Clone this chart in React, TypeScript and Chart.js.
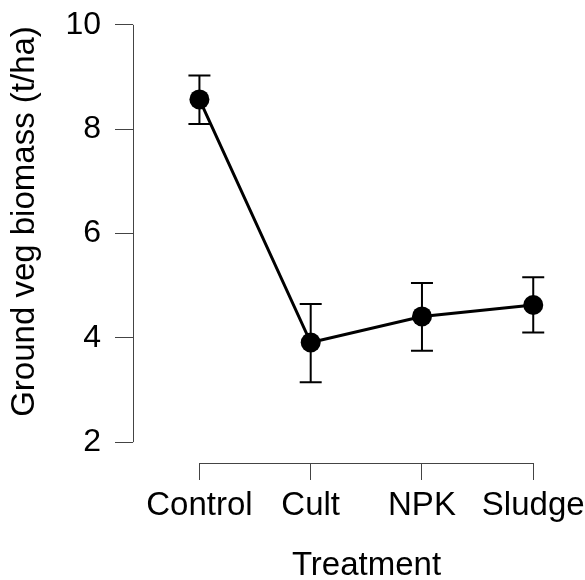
import React, { useEffect, useRef } from 'react';
import { Chart, registerables } from 'chart.js';

Chart.register(...registerables);

const categories = ['Control', 'Cult', 'NPK', 'Sludge'];
const means = [8.57, 3.91, 4.41, 4.63];
const upper = [9.03, 4.65, 5.05, 5.16];
const lower = [8.1, 3.15, 3.75, 4.1];
const yTicks = [2, 4, 6, 8, 10];
const xTitle = 'Treatment';
const yTitle = 'Ground veg biomass (t/ha)';

const FONT = "'Liberation Sans', Arial, Helvetica, sans-serif";

const rPlot = {
  id: 'rPlot',
  beforeDatasetsDraw(chart: any) {
    const { ctx, scales, chartArea } = chart;
    const x = scales.x;
    const y = scales.y;
    ctx.save();
    // axis lines (R style, only spanning tick range)
    ctx.strokeStyle = '#444';
    ctx.lineWidth = 1;
    const ax = Math.round(chartArea.left) + 0.5;
    ctx.beginPath();
    ctx.moveTo(ax, y.getPixelForValue(yTicks[0]));
    ctx.lineTo(ax, y.getPixelForValue(yTicks[yTicks.length - 1]));
    ctx.stroke();
    const ay = Math.round(chartArea.bottom) + 0.5;
    ctx.beginPath();
    ctx.moveTo(x.getPixelForValue(1), ay);
    ctx.lineTo(x.getPixelForValue(categories.length), ay);
    ctx.stroke();
    // error bars
    ctx.strokeStyle = '#000';
    ctx.lineWidth = 2;
    means.forEach((_, i) => {
      const px = x.getPixelForValue(i + 1);
      const t = y.getPixelForValue(upper[i]);
      const b = y.getPixelForValue(lower[i]);
      ctx.beginPath();
      ctx.moveTo(px, t);
      ctx.lineTo(px, b);
      ctx.moveTo(px - 11, t);
      ctx.lineTo(px + 11, t);
      ctx.moveTo(px - 11, b);
      ctx.lineTo(px + 11, b);
      ctx.stroke();
    });
    ctx.restore();
  },
};

export default function App() {
  const ref = useRef<HTMLCanvasElement>(null);
  useEffect(() => {
    if (!ref.current) return;
    const chart = new Chart(ref.current, {
      type: 'line',
      data: {
        datasets: [
          {
            data: means.map((m, i) => ({ x: i + 1, y: m })),
            borderColor: '#000',
            borderWidth: 3,
            pointRadius: 10,
            pointHoverRadius: 10,
            pointBackgroundColor: '#000',
            pointBorderWidth: 0,
            clip: false as any,
          },
        ],
      },
      options: {
        animation: false,
        responsive: false,
        events: [],
        layout: { padding: { left: 0, right: 1, top: 7, bottom: 0 } },
        plugins: { legend: { display: false }, tooltip: { enabled: false } },
        scales: {
          x: {
            type: 'linear',
            min: 0.403,
            max: 4.6,
            afterBuildTicks: (s: any) => {
              s.ticks = categories.map((_, i) => ({ value: i + 1 }));
            },
            afterFit: (s: any) => {
              s.height = 117;
              s.paddingLeft = 0;
              s.paddingRight = 0;
            },
            border: { display: false },
            grid: {
              drawOnChartArea: false,
              drawTicks: true,
              tickLength: 17,
              color: '#444',
              lineWidth: 1,
            },
            ticks: {
              autoSkip: false,
              maxRotation: 0,
              padding: 6,
              color: '#000',
              font: { family: FONT, size: 33 },
              callback: (v: any) => categories[Number(v) - 1] ?? '',
            },
            title: {
              display: true,
              text: xTitle,
              color: '#000',
              font: { family: FONT, size: 33, lineHeight: 0.8 },
              padding: { top: 0, bottom: 1 },
            },
          },
          y: {
            type: 'linear',
            min: 1.6,
            max: 10.86,
            afterBuildTicks: (s: any) => {
              s.ticks = yTicks.map((v) => ({ value: v }));
            },
            afterFit: (s: any) => {
              s.width = 133;
              s.paddingTop = 0;
              s.paddingBottom = 0;
            },
            border: { display: false },
            grid: {
              drawOnChartArea: false,
              drawTicks: true,
              tickLength: 18,
              color: '#444',
              lineWidth: 1,
            },
            ticks: {
              autoSkip: false,
              padding: 14,
              color: '#000',
              font: { family: FONT, size: 32 },
              callback: (v: any) => String(v),
            },
            title: {
              display: true,
              text: yTitle,
              color: '#000',
              font: { family: FONT, size: 33, lineHeight: 1.2 },
              padding: { top: 5.5, bottom: 0 },
            },
          },
        },
      },
      plugins: [rPlot],
    });
    return () => chart.destroy();
  }, []);
  return (
    <div
      style={{
        position: 'fixed',
        left: 0,
        top: 0,
        width: 585,
        height: 580,
        overflow: 'hidden',
        background: '#fff',
      }}
    >
      <canvas
        ref={ref}
        width={610}
        height={610}
        style={{ display: 'block', position: 'absolute', left: 0, top: -30 }}
      />
    </div>
  );
}
